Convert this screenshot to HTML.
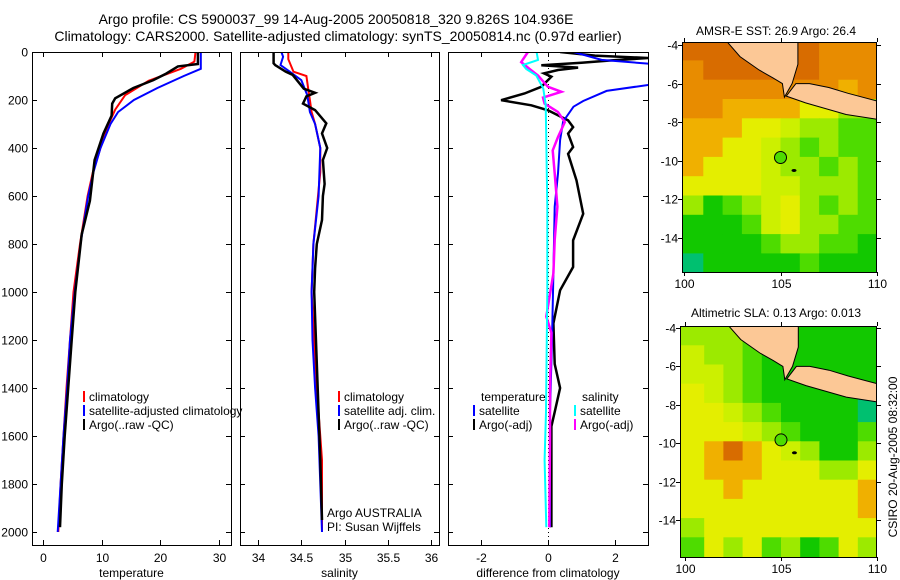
<!DOCTYPE html>
<html><head><meta charset="utf-8">
<style>
html,body{margin:0;padding:0;background:#fff;}
svg{display:block;font-family:"Liberation Sans",sans-serif;}
text{fill:#000;font-size:12px;}
</style></head>
<body>
<svg id="chart" width="900" height="580" viewBox="0 0 900 580" xmlns="http://www.w3.org/2000/svg">
<text x="336" y="24" text-anchor="middle" style="font-size:14px">Argo profile: CS 5900037_99 14-Aug-2005 20050818_320 9.826S 104.936E</text>
<text x="338" y="41" text-anchor="middle" style="font-size:14px">Climatology: CARS2000. Satellite-adjusted climatology: synTS_20050814.nc (0.97d earlier)</text>
<text x="776" y="35" text-anchor="middle">AMSR-E SST: 26.9 Argo: 26.4</text>
<text x="776" y="317" text-anchor="middle">Altimetric SLA: 0.13 Argo: 0.013</text>
<text transform="translate(897,457) rotate(-90)" text-anchor="middle">CSIRO 20-Aug-2005 08:32:00</text>
<g id="g"></g>
</svg>
<script>
// ---- depth & profile data ----
const tDepthClim=[0,40,70,120,180,240,300,400,500,600,800,1000,1200,1400,1600,1800,2000];
const tClim=[26.0,25.8,23.5,18,14,12.3,11.2,9.8,8.5,7.6,6.3,5.2,4.6,4.0,3.5,3.0,2.6];
const tDepthSat=[0,70,100,150,200,250,300,400,500,600,800,1000,1200,1400,1600,1800,2000];
const tSat=[26.9,26.9,24,19.5,15.5,12.8,11.5,9.8,8.6,7.7,6.4,5.4,4.6,4.1,3.5,3.0,2.5];
const tDepthArgo=[0,50,60,90,117,150,193,215,265,340,450,620,760,1000,1200,1400,1600,1800,1980];
const tArgo=[26.4,26.4,23,21,18.8,15.4,12.3,11.8,11.7,10.3,8.8,8.0,6.6,5.5,4.9,4.3,3.7,3.2,2.9];

const sDepthClim=[0,30,82,100,153,200,250,300,400,500,800,1000,1400,1700,2000];
const sClim=[34.35,34.35,34.41,34.56,34.58,34.6,34.62,34.66,34.72,34.72,34.64,34.62,34.68,34.74,34.74];
const sDepthSat=[0,20,54,80,117,180,250,300,400,600,800,1000,1200,1400,1600,1800,2000];
const sSat=[34.27,34.29,34.26,34.36,34.5,34.57,34.6,34.66,34.72,34.7,34.64,34.62,34.63,34.66,34.7,34.72,34.74];
const sDepthArgo=[0,47,55,82,95,153,170,185,200,215,242,297,339,400,450,550,600,700,800,900,1000,1400,1700,1950];
const sArgo=[34.18,34.18,34.2,34.32,34.4,34.53,34.66,34.56,34.54,34.52,34.66,34.79,34.74,34.8,34.75,34.77,34.75,34.74,34.68,34.66,34.65,34.69,34.72,34.74];

const dDepthTSat=[0,33,54,137,162,204,228,290,367,506,644,922,1200,1500,1980];
const dTSat=[0.76,1.6,3.5,3.0,1.75,1.05,0.76,0.45,0.36,0.3,0.2,0.16,0.12,0.06,0.06];
const dDepthTArgo=[0,15,25,35,45,55,65,75,89,103,145,173,201,222,243,285,313,340,396,424,535,674,785,896,993,1131,1300,1400,1500,1560,1980];
const dTArgo=[0.36,1.4,3.0,1.9,1.0,-0.2,0.9,0.3,-0.12,0.1,-0.2,-0.7,-1.4,-0.5,0,0.6,0.75,0.6,0.75,0.6,0.85,1.05,0.75,0.75,0.36,0.16,0.2,0.36,0.2,0.1,0.1];
const dDepthSSat=[0,33,54,71,98,153,220,367,644,1000,1500,1700,1980];
const dSSat=[-0.34,-0.3,-0.75,-0.65,-0.35,-0.14,-0.07,-0.05,-0.02,-0.02,-0.06,-0.1,-0.05];
const dDepthSArgo=[0,42,71,98,145,166,190,215,250,292,354,410,506,644,783,922,1102,1170,1400,1600,1980];
const dSArgo=[-0.6,-0.8,-0.55,-0.3,0,0.4,-0.15,-0.1,0.3,0.5,0.3,0.14,0.2,0.28,0.2,0.16,-0.05,0.1,0.06,0.06,0.04];

// ---- tick labels ----
const depthTicks=[0,200,400,600,800,1000,1200,1400,1600,1800,2000];
const tempTicks=[0,10,20,30];
const salTicks=[34,34.5,35,35.5,36];
const salTickLabels=["34","34.5","35","35.5","36"];
const diffTicks=[-2,0,2];
const lonTicks=[100,105,110];
const latTicks=[-4,-6,-8,-10,-12,-14];

// ---- map grids (1 degree cells, lon 100..110 from top) ----
const sstRows=["OOOOOOOooo","oOOOOOOooo","ooooooooao","ooaaaayyll","aaayyYllgg","aayyYlglgg","ayyyYllglg","yyyyYYlllg","lGglYylglg","GGGgYyllgg","GGGGgllggG","cGGGGGgGGG"];
const slaRows=["lllggGGGGG","YllgGGGGGG","YYlgGGGGGG","yYlgGGGGGc","yyYlgGGGGc","yyyYlgGGGg","yaOayYlGGl","yaaayyylly","yyayyyyyya","yyyyyyyyya","lyyyyyyyyy","gylyglGgyl"];
const sumatraLon=[102.2,102.9,103.9,104.6,105.1,105.2,105.6,105.9,105.9];
const sumatraLat=[-3.8,-4.6,-5.3,-5.7,-6.0,-6.7,-6.0,-5.0,-3.8];
const javaLon=[105.8,106.5,107.5,108.5,110,110,108.4,106.3,105.3];
const javaLat=[-6.0,-6.0,-6.2,-6.5,-6.9,-7.85,-7.6,-7.0,-6.65];
const floatLon=105.0, floatLat=-9.83;

const pal={O:"#d86c00",o:"#e88c00",a:"#f0b000",y:"#e4ee00",Y:"#ccf000",l:"#9cea00",g:"#4edc00",G:"#12c800",c:"#00c070"};
const NS="http://www.w3.org/2000/svg";
const G=document.getElementById("g");
function mk(tag,attrs,parent){const e=document.createElementNS(NS,tag);for(const k in attrs)e.setAttribute(k,attrs[k]);(parent||G).appendChild(e);return e;}
function txt(x,y,s,anchor,parent){const t=mk("text",{x:x,y:y,"text-anchor":anchor||"start"},parent);t.textContent=s;return t;}

const y0=52,yk=0.24,PB=545;
const yD=d=>y0+d*yk;
const panels=[
 {x0:32,x1:231,fx:v=>43+v*5.867,ticks:tempTicks,labels:tempTicks.map(String),title:"temperature",name:"temperature-panel"},
 {x0:240,x1:439,fx:v=>258+(v-34)*86.5,ticks:salTicks,labels:salTickLabels,title:"salinity",name:"salinity-panel"},
 {x0:448,x1:648,fx:v=>548+v*33.5,ticks:diffTicks,labels:diffTicks.map(String),title:"difference from climatology",name:"difference-panel"}
];
panels.forEach((p,i)=>{
  const g=mk("g",{});
  
  
  const cp=mk("clipPath",{id:"cp"+i},g);
  mk("rect",{x:p.x0,y:y0,width:p.x1-p.x0,height:PB-y0},cp);
  p.g=mk("g",{"clip-path":"url(#cp"+i+")"},g);
  const fr=mk("rect",{x:p.x0+0.5,y:y0+0.5,width:p.x1-p.x0,height:PB-y0,fill:"none",stroke:"#000","stroke-width":1},g);
  
  
  depthTicks.forEach(d=>{
    const yy=Math.round(yD(d))+0.5;
    mk("line",{x1:p.x0,x2:p.x0+5,y1:yy,y2:yy,stroke:"#000"},g);
    mk("line",{x1:p.x1-5,x2:p.x1,y1:yy,y2:yy,stroke:"#000"},g);
    if(i===0){const t=txt(28,yy+4,String(d),"end",g);
      
      }
  });
  p.ticks.forEach((v,k)=>{
    const xx=Math.round(p.fx(v))+0.5;
    mk("line",{x1:xx,x2:xx,y1:y0,y2:y0+5,stroke:"#000"},g);
    mk("line",{x1:xx,x2:xx,y1:PB-5,y2:PB,stroke:"#000"},g);
    const t=txt(xx,562,p.labels[k],"middle",g);
    
    
  });
  const at=txt((p.x0+p.x1)/2,577,p.title,"middle",g);
  
  
});
function series(p,depths,vals,color,w,name){
  const pts=depths.map((d,k)=>p.fx(vals[k]).toFixed(1)+","+yD(d).toFixed(1)).join(" ");
  const l=mk("polyline",{points:pts,fill:"none",stroke:color,"stroke-width":w,"stroke-linejoin":"miter"},p.g);
  
  
}
const zl=mk("line",{x1:548.5,x2:548.5,y1:y0,y2:PB,stroke:"#000","stroke-dasharray":"1,3"},panels[2].g);


series(panels[0],tDepthClim,tClim,"#f00",2,"temp-climatology-line");
series(panels[0],tDepthSat,tSat,"#00f",2,"temp-satellite-line");
series(panels[0],tDepthArgo,tArgo,"#000",2.5,"temp-argo-line");
series(panels[1],sDepthClim,sClim,"#f00",2,"sal-climatology-line");
series(panels[1],sDepthSat,sSat,"#00f",2,"sal-satellite-line");
series(panels[1],sDepthArgo,sArgo,"#000",2.5,"sal-argo-line");
series(panels[2],dDepthTArgo,dTArgo,"#000",2.5,"diff-temp-argo-line");
series(panels[2],dDepthTSat,dTSat,"#00f",2,"diff-temp-satellite-line");
series(panels[2],dDepthSArgo,dSArgo,"#f0f",2.5,"diff-sal-argo-line");
series(panels[2],dDepthSSat,dSSat,"#0ff",2,"diff-sal-satellite-line");

function legend(x,y,color,label){
  const g=mk("g",{});
  
  
  mk("rect",{x:x,y:y-10,width:2,height:11,fill:color},g);
  txt(x+6,y,label,"start",g);
}
legend(83,401,"#f00","climatology");
legend(83,415,"#00f","satellite-adjusted climatology");
legend(83,429,"#000","Argo(..raw -QC)");
legend(338,401,"#f00","climatology");
legend(338,415,"#00f","satellite adj. clim.");
legend(338,429,"#000","Argo(..raw -QC)");
txt(481,401,"temperature");
legend(473,415,"#00f","satellite");
legend(473,429,"#000","Argo(-adj)");
txt(582,401,"salinity");
legend(574,415,"#0ff","satellite");
legend(574,429,"#f0f","Argo(-adj)");
const a1=txt(327,517,"Argo AUSTRALIA");

const a2=txt(327,531,"PI: Susan Wijffels");


function drawMap(rows,L,name,top,bottom,latTop){
  const g=mk("g",{});
  
  
  const fx=lon=>L.x100+(lon-100)*L.k, fy=lat=>L.yN4+(-4-lat)*L.k;
  const cid="cl"+name;
  const cp=mk("clipPath",{id:cid},g);
  mk("rect",{x:L.x0,y:top,width:877-L.x0,height:bottom-top},cp);
  const inner=mk("g",{"clip-path":"url(#"+cid+")"},g);
  rows.forEach((r,ri)=>{for(let ci=0;ci<r.length;ci++){
    const la=latTop-ri, lo=100+ci;
    const x=fx(lo)-(ci===0?6:0), y=fy(la)-(ri===0?6:0);
    const c=mk("rect",{x:x.toFixed(1),y:y.toFixed(1),width:(fx(lo+1)-x+0.6).toFixed(1),height:(fy(la-1)-y+(ri===rows.length-1?8:0.6)).toFixed(1),fill:pal[r[ci]]},inner);
    
    
  }});
  [[sumatraLon,sumatraLat,"sumatra-land"],[javaLon,javaLat,"java-land"]].forEach(([lo,la,n])=>{
    const pts=lo.map((v,k)=>fx(v).toFixed(1)+","+fy(la[k]).toFixed(1)).join(" ");
    const pg=mk("polygon",{points:pts,fill:"#fcc896",stroke:"#000","stroke-width":1},inner);
    
    
  });
  const isl=mk("ellipse",{cx:fx(105.7),cy:fy(-10.5),rx:2.5,ry:1.5,fill:"#000"},inner);
  
  
  const fl=mk("circle",{cx:fx(floatLon),cy:fy(floatLat),r:6,fill:pal.g,stroke:"#000","stroke-width":1},inner);
  
  
  mk("rect",{x:L.x0+0.5,y:top+0.5,width:877-L.x0-1,height:bottom-top,fill:"none",stroke:"#000"},g);
  latTicks.forEach(v=>{const yy=Math.round(fy(v))+0.5;
    mk("line",{x1:L.x0-4,x2:L.x0,y1:yy,y2:yy,stroke:"#000"},g);
    mk("line",{x1:877,x2:881,y1:yy,y2:yy,stroke:"#000"},g);
    const t=txt(L.x0-4,yy+4,String(v),"end",g);
    
    });
  lonTicks.forEach(v=>{const xx=Math.round(fx(v))+0.5;
    mk("line",{x1:xx,x2:xx,y1:top-4,y2:top,stroke:"#000"},g);
    mk("line",{x1:xx,x2:xx,y1:bottom,y2:bottom+4,stroke:"#000"},g);
    const t=txt(xx,bottom+16,String(v),"middle",g);
    
    });
}
drawMap(sstRows,{x0:682,x100:684,k:19.3,yN4:45},"sst-map",42,272,-3.8);
drawMap(slaRows,{x0:680,x100:685,k:19.2,yN4:328},"sla-map",326,557,-3.9);
</script>
</body></html>
